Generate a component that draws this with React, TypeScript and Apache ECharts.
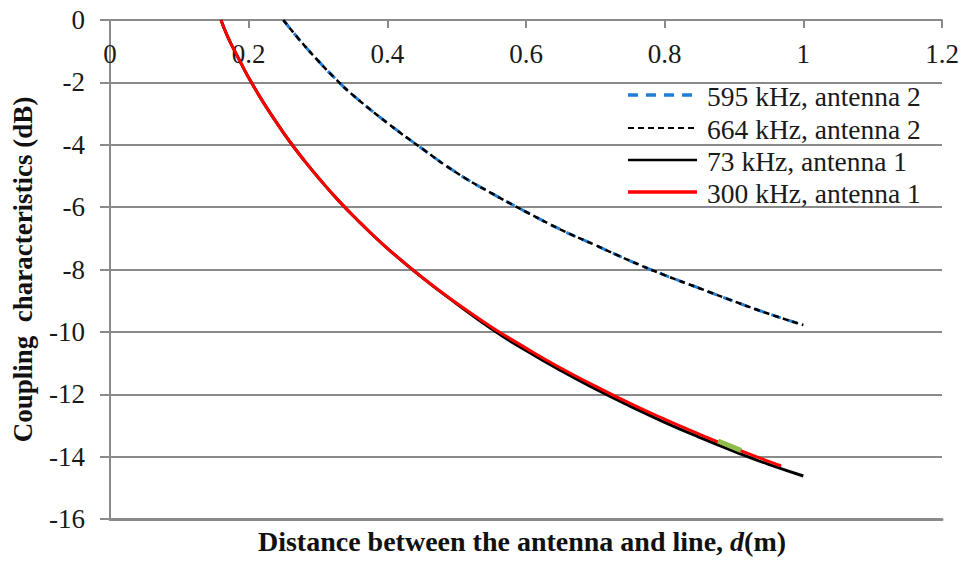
import React, { useEffect, useRef } from "react";
import * as echarts from "echarts";

// Tick settings
const xTicks = [0, 0.2, 0.4, 0.6, 0.8, 1, 1.2];
const yTicks = [0, -2, -4, -6, -8, -10, -12, -14, -16];

// 595 kHz / 664 kHz, antenna 2 (overlapping curves)
const dAnt2 = [0.25, 0.275, 0.3, 0.325, 0.35, 0.4, 0.45, 0.5, 0.55, 0.6, 0.65, 0.7, 0.75, 0.8, 0.85, 0.9, 0.95, 1.0];
const db595 = [0, -0.68, -1.3, -1.88, -2.4, -3.3, -4.12, -4.9, -5.55, -6.15, -6.72, -7.22, -7.72, -8.18, -8.6, -9.02, -9.42, -9.78];
const db664 = [0, -0.68, -1.3, -1.88, -2.4, -3.3, -4.12, -4.9, -5.55, -6.15, -6.72, -7.22, -7.72, -8.18, -8.6, -9.02, -9.42, -9.78];

// 300 kHz, antenna 1
const d300 = [0.16, 0.17, 0.18, 0.19, 0.2, 0.22, 0.24, 0.26, 0.28, 0.3, 0.33, 0.36, 0.4, 0.45, 0.5, 0.55, 0.6, 0.65, 0.7, 0.75, 0.8, 0.85, 0.9, 0.95, 0.968];
const db300 = [0, -0.55, -1.0, -1.43, -1.85, -2.6, -3.28, -3.92, -4.5, -5.04, -5.8, -6.48, -7.32, -8.25, -9.08, -9.84, -10.52, -11.16, -11.74, -12.29, -12.8, -13.28, -13.73, -14.15, -14.3];

// 73 kHz, antenna 1
const d73 = [0.16, 0.17, 0.18, 0.19, 0.2, 0.22, 0.24, 0.26, 0.28, 0.3, 0.33, 0.36, 0.4, 0.45, 0.5, 0.55, 0.6, 0.65, 0.7, 0.75, 0.8, 0.85, 0.9, 0.95, 1.0];
const db73 = [0, -0.55, -1.0, -1.43, -1.85, -2.6, -3.28, -3.92, -4.5, -5.04, -5.8, -6.48, -7.32, -8.25, -9.1, -9.9, -10.6, -11.24, -11.83, -12.38, -12.9, -13.38, -13.83, -14.25, -14.62];

// small green segment
const dGreen = [0.877, 0.91];
const dbGreen = [-13.5, -13.8];

// legend
const legendNames = ["595 kHz, antenna 2", "664 kHz, antenna 2", "73 kHz, antenna 1", "300 kHz, antenna 1"];

const FONT = "Liberation Serif";
const GRID_C = "#8a8a8a";

const pairs = (xs: number[], ys: number[]) => xs.map((x, i) => [x, ys[i]]);

export default function App() {
  const ref = useRef<HTMLDivElement>(null);
  useEffect(() => {
    if (!ref.current) return;
    const chart = echarts.init(ref.current, undefined, { renderer: "svg" });

    const legendStyles = [
      { stroke: "#1f7fd6", lineWidth: 3.5, lineDash: [10, 8] },
      { stroke: "#000", lineWidth: 2, lineDash: [6, 4] },
      { stroke: "#000", lineWidth: 2.5 },
      { stroke: "#ff0000", lineWidth: 3.5 },
    ];
    const legendY = [95, 128, 160, 192];
    const legendGraphics: any[] = [];
    legendNames.forEach((n, i) => {
      legendGraphics.push({
        type: "line",
        shape: { x1: 628, y1: legendY[i], x2: 697, y2: legendY[i] },
        style: legendStyles[i],
        z: 10,
      });
      legendGraphics.push({
        type: "text",
        x: 707,
        y: legendY[i] + 1,
        style: {
          text: n,
          fontSize: 27.5,
          fontFamily: FONT,
          fill: "#1a1a1a",
          textAlign: "left",
          textVerticalAlign: "middle",
        },
        z: 10,
      });
    });

    const baseLine = { type: "line", smooth: true, showSymbol: false, symbol: "none" };

    chart.setOption({
      animation: false,
      backgroundColor: "#ffffff",
      grid: { left: 110, right: 26, top: 20, bottom: 43 },
      xAxis: [
        {
          type: "value",
          position: "top",
          min: xTicks[0],
          max: xTicks[xTicks.length - 1],
          interval: 0.2,
          axisLine: { onZero: false, lineStyle: { color: GRID_C, width: 2 } },
          axisTick: { inside: true, length: 8, lineStyle: { color: GRID_C, width: 2 } },
          axisLabel: { inside: true, margin: 20, fontSize: 27, fontFamily: FONT, color: "#1a1a1a" },
          splitLine: { show: false },
        },
        {
          type: "value",
          position: "bottom",
          min: xTicks[0],
          max: xTicks[xTicks.length - 1],
          interval: 0.2,
          axisLine: { onZero: false, lineStyle: { color: GRID_C, width: 3 } },
          axisTick: { show: false },
          axisLabel: { show: false },
          splitLine: { show: false },
        },
      ],
      yAxis: {
        type: "value",
        min: yTicks[yTicks.length - 1],
        max: yTicks[0],
        interval: 2,
        name: "Coupling  characteristics (dB)",
        nameLocation: "middle",
        nameGap: 74,
        nameTextStyle: { fontSize: 27, fontWeight: "bold", fontFamily: FONT, color: "#111" },
        axisLine: { show: true, onZero: false, lineStyle: { color: GRID_C, width: 2 } },
        axisTick: { show: true, length: 10, lineStyle: { color: GRID_C, width: 2 } },
        axisLabel: { margin: 25, fontSize: 27, fontFamily: FONT, color: "#1a1a1a" },
        splitLine: { show: true, lineStyle: { color: GRID_C, width: 2 } },
      },
      graphic: [
        ...legendGraphics,
        {
          type: "text",
          x: 522,
          y: 541,
          style: {
            text: "{b|Distance between the antenna and line, }{i|d}{b|(m)}",
            rich: {
              b: { fontSize: 28, fontWeight: "bold", fontFamily: FONT, fill: "#111", color: "#111" },
              i: { fontSize: 28, fontWeight: "bold", fontStyle: "italic", fontFamily: FONT, fill: "#111", color: "#111" },
            },
            textAlign: "center",
            textVerticalAlign: "middle",
          },
        },
      ],
      series: [
        {
          ...baseLine,
          name: legendNames[0],
          data: pairs(dAnt2, db595),
          lineStyle: { color: "#1f7fd6", width: 3, type: [10, 7] },
          itemStyle: { color: "#1f7fd6" },
          z: 3,
        },
        {
          ...baseLine,
          name: legendNames[1],
          data: pairs(dAnt2, db664),
          lineStyle: { color: "#000", width: 2.5, type: [6, 4] },
          itemStyle: { color: "#000" },
          z: 4,
        },
        {
          ...baseLine,
          name: legendNames[2],
          data: pairs(d73, db73),
          lineStyle: { color: "#000", width: 3 },
          itemStyle: { color: "#000" },
          z: 3,
        },
        {
          ...baseLine,
          name: legendNames[3],
          data: pairs(d300, db300),
          lineStyle: { color: "#ff0000", width: 3 },
          itemStyle: { color: "#ff0000" },
          z: 4,
        },
        {
          ...baseLine,
          smooth: false,
          name: "green",
          data: pairs(dGreen, dbGreen),
          lineStyle: { color: "#8fbc4a", width: 5 },
          itemStyle: { color: "#8fbc4a" },
          z: 5,
        },
      ],
    });
    return () => chart.dispose();
  }, []);
  return <div ref={ref} style={{ width: 968, height: 562, position: "absolute", left: 0, top: 0 }} />;
}
